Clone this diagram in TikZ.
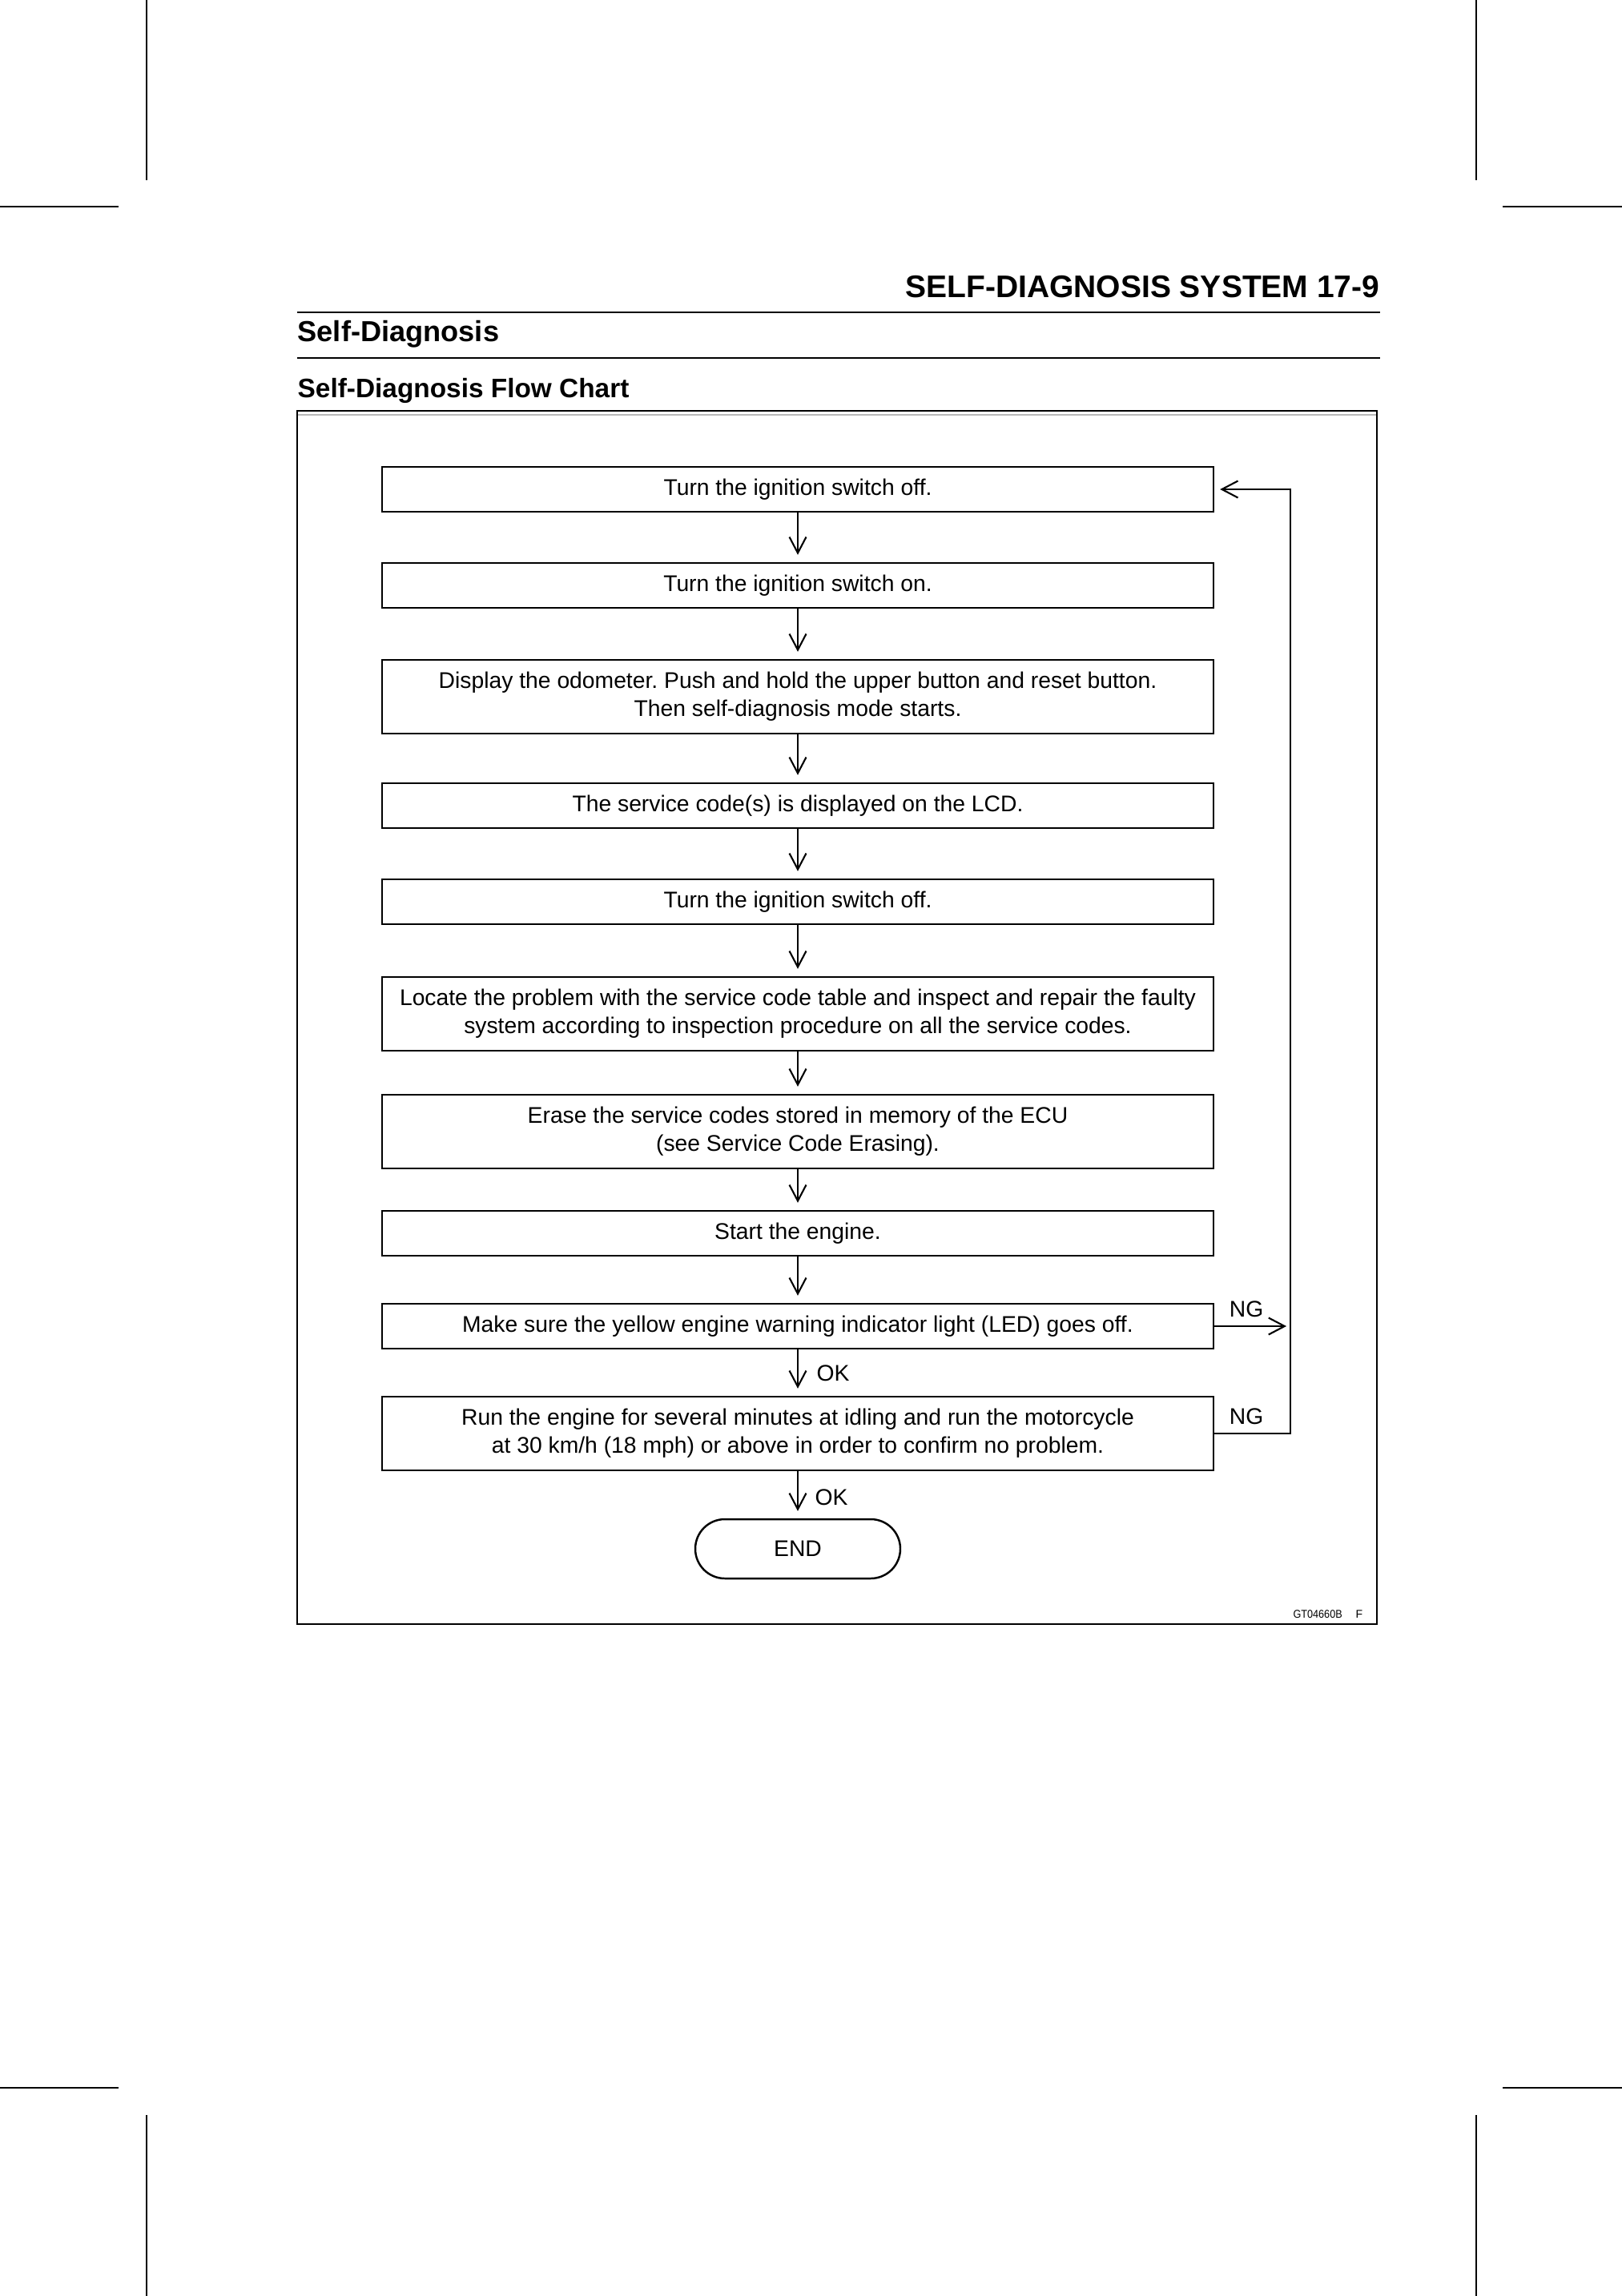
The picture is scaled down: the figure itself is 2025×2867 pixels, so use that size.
\documentclass[tikz,border=0pt]{standalone}
\usepackage{fontspec}
\setmainfont{Liberation Sans}
\usepackage{graphicx}
\usepackage{tikz}
\usetikzlibrary{arrows.meta}
\frenchspacing

\begin{document}
\begin{tikzpicture}[x=0.1mm,y=-0.1mm]

	\tikzstyle{stepbox}=[draw,line width=0.7pt,minimum width=103.8mm,minimum height=5.6mm,inner sep=0pt,align=center,font=\fontsize{8.05}{10}\selectfont]
	\tikzstyle{twoline}=[minimum height=9.2mm]
	\tikzstyle{endbox}=[draw,line width=0.7pt,rounded corners=3.7mm,minimum width=25.6mm,minimum height=7.4mm,inner sep=0pt,font=\fontsize{8.05}{10}\selectfont]
	\tikzstyle{flow}=[line width=0.6pt,-{Straight Barb[length=2mm,width=2.1mm]},shorten >=0.9mm]
	\tikzstyle{tag}=[inner sep=0pt,font=\fontsize{8.05}{10}\selectfont]
	\tikzstyle{crop}=[line width=0.4pt]

	\useasboundingbox (0,0) rectangle (2025,2867);

	% crop marks
	\draw[crop] (183,0) -- (183,225);
	\draw[crop] (0,258) -- (148,258);
	\draw[crop] (1843,0) -- (1843,225);
	\draw[crop] (1876,258) -- (2025,258);
	\draw[crop] (0,2607) -- (148,2607);
	\draw[crop] (183,2641) -- (183,2867);
	\draw[crop] (1876,2607) -- (2025,2607);
	\draw[crop] (1843,2641) -- (1843,2867);

	% page heading
	\node[anchor=base east,inner sep=0pt,font=\bfseries\fontsize{11.1}{13}\selectfont] (pagehead) at (1723,372) {SELF-DIAGNOSIS SYSTEM 17-9};
	\draw[line width=0.6pt] (371,390) -- (1723,390);
	\node[anchor=base west,inner sep=0pt,font=\bfseries\fontsize{10.3}{12}\selectfont] (section) at (371,427) {Self-Diagnosis};
	\draw[line width=0.6pt] (371,447) -- (1723,447);
	\node[anchor=base west,inner sep=0pt,font=\bfseries\fontsize{9.5}{11}\selectfont] (subsection) at (371,497) {Self-Diagnosis Flow Chart};

	% frame
	\draw[line width=0.6pt] (371,513) rectangle (1719,2028);
	\draw[gray!55,line width=0.5pt] (372,518) -- (1718,518);

	\begin{scope}
	\node[stepbox] (b1) at (996,611) {Turn the ignition switch off.};
	\node[stepbox] (b2) at (996,731) {Turn the ignition switch on.};
	\node[stepbox,twoline] (b3) at (996,870) {Display the odometer. Push and hold the upper button and reset button.\\Then self-diagnosis mode starts.};
	\node[stepbox] (b4) at (996,1006) {The service code(s) is displayed on the LCD.};
	\node[stepbox] (b5) at (996,1126) {Turn the ignition switch off.};
	\node[stepbox,twoline] (b6) at (996,1266) {Locate the problem with the service code table and inspect and repair the faulty\\system according to inspection procedure on all the service codes.};
	\node[stepbox,twoline] (b7) at (996,1413) {Erase the service codes stored in memory of the ECU\\(see Service Code Erasing).};
	\node[stepbox] (b8) at (996,1540) {Start the engine.};
	\node[stepbox] (b9) at (996,1656) {Make sure the yellow engine warning indicator light (LED) goes off.};
	\node[stepbox,twoline] (b10) at (996,1790) {Run the engine for several minutes at idling and run the motorcycle\\at 30 km/h (18 mph) or above in order to confirm no problem.};
	\node[endbox] (finish) at (996,1934) {END};

	\draw[flow] (b1) -- (b2);
	\draw[flow] (b2) -- (b3);
	\draw[flow] (b3) -- (b4);
	\draw[flow] (b4) -- (b5);
	\draw[flow] (b5) -- (b6);
	\draw[flow] (b6) -- (b7);
	\draw[flow] (b7) -- (b8);
	\draw[flow] (b8) -- (b9);
	\draw[flow] (b9) -- (b10);
	\draw[flow] (b10) -- (finish);

	\node[tag,anchor=base west] (ok1) at ([xshift=2.3mm,yshift=-3.9mm]b9.south) {OK};
	\node[tag,anchor=base west] (ok2) at ([xshift=2.1mm,yshift=-4.2mm]b10.south) {OK};

	% NG return loop
	\coordinate (loop) at (1611,0);
	\draw[flow,shorten >=0.5mm] (b9.east) -- (b9.east -| loop);
	\draw[flow,shorten >=0.7mm] (b10.east) -- (b10.east -| loop) |- (b1.east);
	\node[tag,anchor=base west] (ng1) at ([xshift=1.8mm,yshift=1.2mm]b9.east) {NG};
	\node[tag,anchor=base west] (ng2) at ([xshift=1.8mm,yshift=1.2mm]b10.east) {NG};
	\end{scope}

	\node[anchor=base east,inner sep=0pt,font=\fontsize{4}{5}\selectfont] (figcode) at (1702,2020) {\scalebox{0.9}[1]{GT04660B}\hspace{1.7mm}F};

\end{tikzpicture}
\end{document}
